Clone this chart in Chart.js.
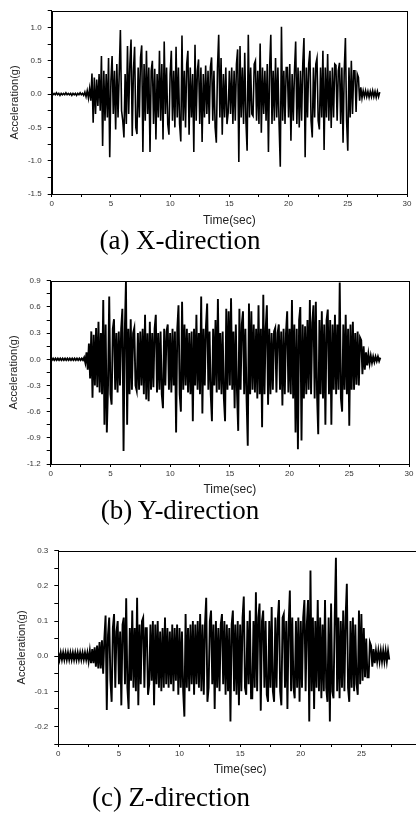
<!DOCTYPE html>
<html>
<head>
<meta charset="utf-8">
<script src="https://cdn.jsdelivr.net/npm/chart.js@4/dist/chart.umd.min.js"></script>
<style>
  html, body { margin: 0; padding: 0; background: #fff; }
  body { width: 416px; height: 820px; overflow: hidden; position: relative; }
  canvas { position: absolute; left: 0; }
  .cap { position: absolute; font-family: 'Liberation Serif', 'Times New Roman', serif; font-size: 27px; line-height: 27px; text-align: center; color: #000; white-space: nowrap; }
</style>
</head>
<body>
<canvas id="chartX" width="416" height="228" style="top:0px"></canvas>
<div class="cap" style="left:0; width:360px; top:227px">(a) X-direction</div>
<canvas id="chartY" width="416" height="227" style="top:270px"></canvas>
<div class="cap" style="left:0; width:360px; top:497px">(b) Y-direction</div>
<canvas id="chartZ" width="430" height="237" style="top:540px"></canvas>
<div class="cap" style="left:0; width:342px; top:784px">(c) Z-direction</div>
<script>
// sample step of the records (sec)
const dt = 0.1;

// X-direction acceleration (g), one value per 0.1 s from 0 s
const accX = [
  0.01,-0.01,0.01,-0.01,0.02,-0.01,0.01,-0.02,0.01,-0.01,
  0.01,-0.01,0.02,-0.01,0.01,-0.01,0.01,-0.02,0.01,-0.01,
  0.01,-0.02,0.01,-0.01,0.02,-0.01,0.01,-0.02,0.03,-0.04,
  0.05,-0.06,0.08,-0.10,0.31,-0.43,0.25,-0.30,0.22,-0.18,
  0.30,-0.25,0.57,-0.78,0.35,-0.40,0.30,-0.35,0.54,-0.95,
  0.20,0.57,-0.30,0.35,-0.53,0.45,-0.35,0.30,0.96,-0.25,
  -0.40,-0.65,0.30,-0.45,0.72,-0.30,0.45,0.82,-0.63,0.35,
  0.71,-0.50,-0.60,0.40,-0.35,0.55,0.73,-0.87,0.45,-0.40,
  0.65,-0.30,0.40,-0.87,0.35,0.50,-0.45,0.38,-0.68,0.30,
  -0.35,0.65,-0.40,0.45,-0.68,0.79,-0.30,0.40,-0.45,-0.61,
  0.30,0.65,-0.40,0.35,-0.50,0.71,-0.35,0.40,-0.45,-0.71,
  0.88,-0.40,0.35,-0.50,0.45,0.65,-0.61,0.40,-0.35,0.30,
  -0.87,0.74,-0.40,0.35,0.52,-0.45,0.40,-0.72,0.30,-0.35,
  0.43,-0.30,0.35,-0.45,0.40,0.55,-0.40,0.35,-0.50,-0.73,
  0.40,0.89,-0.35,0.54,-0.61,0.30,-0.35,0.40,-0.45,-0.28,
  0.35,-0.30,0.40,-0.45,0.35,-0.40,0.45,0.67,-1.02,0.72,
  -0.35,0.40,-0.45,0.62,-0.40,-0.85,0.89,-0.35,0.40,-0.30,
  -0.33,0.45,0.50,-0.40,0.35,-0.45,0.76,-0.58,0.40,-0.30,
  0.35,-0.40,0.45,-0.87,0.40,0.89,-0.45,0.35,-0.40,0.54,
  -0.35,0.40,-0.45,-1.09,1.01,-0.40,0.35,-0.45,0.40,0.40,
  -0.35,0.45,-0.70,0.30,-0.40,0.35,0.79,-0.45,0.40,-0.50,
  0.35,-0.40,0.45,0.84,-0.95,0.40,-0.35,0.45,0.65,-0.40,
  -0.65,0.40,-0.35,0.45,0.54,-0.40,-0.53,0.40,-0.35,0.65,
  -0.84,0.40,-0.35,0.60,-0.40,0.35,-0.51,0.40,-0.35,0.45,
  0.43,-0.40,0.35,0.47,-0.45,0.40,-0.73,0.35,0.84,-0.40,
  -0.85,0.40,-0.35,0.50,-0.30,0.35,0.35,-0.27,0.30,0.25,
  -0.10,0.10,-0.06,0.05,-0.04,0.05,-0.04,0.04,-0.05,0.04,
  -0.04,0.05,-0.04,0.04,-0.05,0.04,-0.04,0.03
];

// Y-direction acceleration (g)
const accY = [
  0.01,-0.01,0.01,-0.01,0.01,-0.01,0.01,-0.01,0.01,-0.01,
  0.01,-0.01,0.01,-0.01,0.01,-0.01,0.01,-0.01,0.01,-0.01,
  0.01,-0.01,0.01,-0.01,0.01,-0.01,0.01,-0.01,0.02,-0.04,
  0.08,-0.12,0.18,-0.22,0.32,-0.44,0.28,-0.30,0.36,-0.32,
  0.43,-0.38,0.30,-0.40,0.68,-0.75,0.40,-0.84,-0.30,0.72,
  -0.40,-0.52,0.35,0.46,-0.35,0.30,-0.38,0.32,-0.30,0.35,
  0.58,-1.05,0.30,0.89,-0.75,0.35,-0.40,0.46,-0.35,0.30,
  0.36,-0.30,-0.36,0.30,-0.35,0.32,-0.30,0.35,-0.40,0.51,
  -0.46,0.30,-0.48,0.43,-0.35,0.30,-0.32,0.35,0.51,-0.38,
  0.30,-0.35,0.32,-0.40,-0.56,0.35,-0.30,0.32,0.40,-0.35,
  0.30,-0.38,0.35,-0.30,0.32,-0.84,0.35,0.62,-0.40,-0.60,
  0.66,-0.35,0.40,-0.30,0.35,-0.38,0.30,-0.40,0.32,-0.71,
  0.35,-0.30,0.51,-0.35,0.30,-0.40,0.72,-0.62,0.35,-0.30,
  0.38,0.64,-0.35,0.32,-0.40,-0.71,0.35,-0.30,0.45,-0.38,
  0.69,-0.35,0.30,-0.40,0.32,-0.45,-0.71,0.58,-0.35,0.55,
  -0.30,0.70,-0.35,0.32,-0.56,0.40,-0.38,-0.82,0.58,-0.35,
  0.40,0.55,-0.40,0.35,-0.45,-0.99,0.64,-0.40,0.55,-0.35,
  0.40,-0.38,0.35,-0.45,0.62,-0.40,0.35,-0.78,0.74,-0.40,
  0.35,0.62,-0.52,0.35,-0.40,0.30,-0.35,0.32,0.36,-0.38,
  0.30,0.40,-0.35,0.32,-0.53,0.35,-0.40,0.30,0.55,-0.38,
  0.35,-0.40,0.68,-0.45,0.40,-0.84,0.35,-1.03,0.45,0.60,
  -0.93,0.40,-0.45,0.38,-0.40,0.45,-0.35,0.68,-0.40,0.42,
  0.62,-0.45,0.66,-0.40,-0.86,0.45,-0.40,0.55,-0.45,0.40,
  -0.75,0.45,0.57,-0.40,0.45,-0.75,0.40,-0.35,0.51,-0.40,
  0.40,-0.35,0.88,-0.45,-0.60,0.40,-0.35,0.51,-0.40,0.35,
  -0.76,0.40,-0.35,0.43,-0.35,0.30,-0.29,0.32,-0.30,0.25,
  0.22,-0.17,0.15,-0.12,0.08,-0.07,0.06,-0.05,0.04,-0.04,
  0.03,-0.03,0.03,-0.02,0.03,-0.02,0.02
];

// Z-direction acceleration (g)
const accZ = [
  0.01,-0.01,0.01,-0.01,0.01,-0.01,0.01,-0.01,0.01,-0.01,
  0.01,-0.01,0.01,-0.01,0.01,-0.01,0.01,-0.01,0.01,-0.01,
  0.01,-0.01,0.01,-0.01,0.01,-0.015,0.015,-0.02,0.02,-0.02,
  0.025,-0.03,0.03,-0.035,0.04,-0.035,0.045,-0.05,0.05,0.116,
  -0.153,0.06,0.11,-0.07,-0.13,0.08,0.12,-0.09,0.07,0.10,
  -0.08,0.07,-0.14,0.09,0.11,-0.08,0.165,-0.09,-0.15,0.08,
  -0.07,0.13,-0.09,0.08,-0.10,0.166,-0.14,0.09,-0.08,0.10,
  0.11,-0.09,0.08,0.08,-0.11,-0.08,0.09,-0.07,0.10,-0.14,
  0.09,-0.08,0.10,-0.09,0.07,-0.10,0.08,-0.09,0.11,-0.08,
  0.08,-0.09,0.07,-0.08,0.09,-0.10,0.08,-0.07,0.09,-0.11,
  0.08,-0.09,0.07,-0.10,-0.172,0.12,-0.09,0.08,-0.10,0.09,
  -0.08,0.10,-0.11,0.09,-0.08,0.10,-0.09,0.12,-0.10,0.09,
  -0.11,0.09,0.166,-0.13,-0.09,0.10,0.13,-0.08,0.09,-0.15,
  0.10,-0.09,0.08,-0.10,0.09,0.12,-0.08,0.10,-0.11,0.09,
  -0.10,0.08,-0.186,0.09,0.13,-0.10,0.09,-0.11,0.10,-0.14,
  0.09,-0.10,0.11,0.17,-0.09,-0.11,0.10,-0.08,0.13,-0.12,
  -0.12,0.10,-0.09,0.182,-0.10,0.11,0.15,-0.155,0.10,0.13,
  -0.09,0.10,-0.11,-0.13,0.10,-0.09,0.14,-0.10,-0.13,0.11,
  -0.09,0.10,0.16,-0.10,-0.14,0.11,0.12,-0.09,0.10,-0.15,
  0.09,0.187,-0.10,0.11,-0.09,-0.12,0.10,-0.09,0.11,-0.13,
  0.10,-0.09,0.11,0.16,-0.10,0.09,0.16,-0.186,0.244,-0.10,
  0.11,-0.15,0.10,-0.09,0.16,-0.10,0.11,-0.12,0.09,-0.10,
  0.16,-0.09,-0.13,0.11,-0.186,0.15,-0.10,-0.12,0.11,0.28,
  -0.10,0.11,-0.12,0.10,-0.09,0.13,-0.10,0.11,0.206,-0.09,
  -0.13,0.10,-0.09,0.11,-0.10,0.09,-0.08,-0.11,0.13,-0.08,
  0.12,-0.07,0.08,-0.06,0.05,-0.06,-0.06,0.04,0.03,-0.03,
  0.02,-0.02,0.015,-0.015,0.015,-0.015,0.015,-0.015,0.015,-0.015,
  0.015,-0.015,0.015,-0.01
];

// axis ranges / ticks
const timeTicks = [0, 5, 10, 15, 20, 25, 30];
const yTicksX = [-1.5, -1.0, -0.5, 0.0, 0.5, 1.0];
const yTicksY = [-1.2, -0.9, -0.6, -0.3, 0.0, 0.3, 0.6, 0.9];
const yTicksZ = [-0.2, -0.1, 0.0, 0.1, 0.2, 0.3];

const sansFont = "'Liberation Sans', Arial, sans-serif";

// draws the frame around the plot
const boxPlugin = {
    id: 'box',
    afterDraw(chart) {
        const a = chart.chartArea;
        const ctx = chart.ctx;
        ctx.save();
        ctx.strokeStyle = '#000';
        ctx.lineWidth = 1;
        ctx.strokeRect(Math.round(a.left) + 0.5, Math.round(a.top) + 0.5, Math.round(a.right - a.left), Math.round(a.bottom - a.top));
        ctx.restore();
    }
};

function isMajor(v, list) {
    return list.some(t => Math.abs(t - v) < 1e-6);
}

function makeChart(id, values, opt) {
    const points = values.map((v, i) => ({ x: Math.round(i * dt * 10) / 10, y: v }));
    return new Chart(document.getElementById(id), {
        type: 'line',
        data: {
            datasets: [{
                data: points,
                borderColor: '#000',
                borderWidth: opt.lineWidth,
                pointRadius: 0,
                tension: 0,
                fill: false
            }]
        },
        options: {
            responsive: false,
            animation: false,
            events: [],
            layout: { padding: { top: opt.padTop, right: opt.padRight, left: 0, bottom: 0 } },
            plugins: { legend: { display: false }, tooltip: { enabled: false } },
            scales: {
                x: {
                    type: 'linear',
                    min: 0,
                    max: 30,
                    afterFit: s => { s.height = opt.xHeight; },
                    ticks: {
                        stepSize: 2.5,
                        autoSkip: false,
                        maxRotation: 0,
                        padding: 2,
                        color: '#333',
                        font: { family: sansFont, size: 8 },
                        callback: v => isMajor(v, timeTicks) ? String(v) : ''
                    },
                    grid: { drawOnChartArea: false, tickLength: 3, color: '#000' },
                    border: { color: '#000' },
                    title: {
                        display: true,
                        text: 'Time(sec)',
                        color: '#222',
                        padding: 0,
                        font: { family: sansFont, size: 12 }
                    }
                },
                y: {
                    min: opt.yMin,
                    max: opt.yMax,
                    afterFit: s => { s.width = opt.yWidth; },
                    ticks: {
                        stepSize: opt.yStep,
                        autoSkip: false,
                        padding: 6,
                        color: '#333',
                        font: { family: sansFont, size: 8 },
                        callback: v => isMajor(v, opt.yTicks) ? v.toFixed(1) : ''
                    },
                    grid: { drawOnChartArea: false, tickLength: 4, color: '#000' },
                    border: { color: '#000' },
                    title: {
                        display: true,
                        text: 'Acceleration(g)',
                        color: '#222',
                        padding: { top: opt.yTitlePad, bottom: 0 },
                        font: { family: sansFont, size: 11 }
                    }
                }
            }
        },
        plugins: [boxPlugin]
    });
}

makeChart('chartX', accX, {
    padTop: 7, padRight: 9, xHeight: 34, yWidth: 51.7, yTitlePad: 8, lineWidth: 1.6,
    yMin: -1.5, yMax: 1.25, yStep: 0.25, yTicks: yTicksX
});
makeChart('chartY', accY, {
    padTop: 10, padRight: 7, xHeight: 33, yWidth: 50.7, yTitlePad: 7, lineWidth: 1.9,
    yMin: -1.2, yMax: 0.9, yStep: 0.15, yTicks: yTicksY
});
makeChart('chartZ', accZ, {
    padTop: 10, padRight: 8, xHeight: 33, yWidth: 58.3, yTitlePad: 15, lineWidth: 1.9,
    yMin: -0.25, yMax: 0.3, yStep: 0.05, yTicks: yTicksZ
});
</script>
</body>
</html>
